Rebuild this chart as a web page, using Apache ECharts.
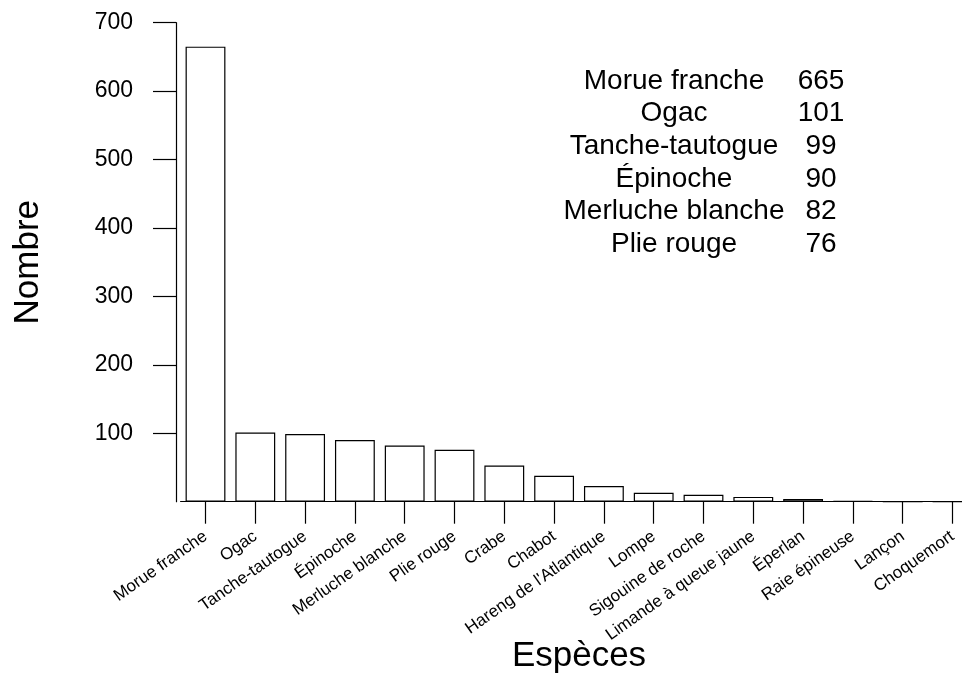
<!DOCTYPE html>
<html>
<head>
<meta charset="utf-8">
<script src="https://cdn.jsdelivr.net/npm/echarts@6/dist/echarts.min.js"></script>
<style>
  html, body { margin: 0; padding: 0; background: #fff; }
  #chart { width: 962px; height: 678px; }
</style>
</head>
<body>
<div id="chart"></div>
<script>
// données
const especes = [
  'Morue franche', 'Ogac', 'Tanche-tautogue', 'Épinoche', 'Merluche blanche',
  'Plie rouge', 'Crabe', 'Chabot', "Hareng de l'Atlantique", 'Lompe',
  'Sigouine de roche', 'Limande à queue jaune', 'Éperlan', 'Raie épineuse',
  'Lançon', 'Choquemort'
]
const nombres = [665, 101, 99, 90, 82, 76, 53, 38, 23, 13, 10, 7, 4, 1, 0, 0]
const yTicks = [100, 200, 300, 400, 500, 600, 700]

const FONT = '"Liberation Sans", Arial, sans-serif'
const chart = echarts.init(document.getElementById('chart'), null, { renderer: 'canvas' })

// petit tableau des 6 premières espèces
const topN = 6
const tableau = []
especes.slice(0, topN).forEach((nom, i) => {
  const y = 81 + i * 32.6
  tableau.push({
    type: 'text', x: 674, y: y,
    style: { text: nom, font: '28px ' + FONT, fill: '#000', textAlign: 'center', textVerticalAlign: 'middle', align: 'center', verticalAlign: 'middle' }
  })
  tableau.push({
    type: 'text', x: 821, y: y,
    style: { text: String(nombres[i]), font: '28px ' + FONT, fill: '#000', textAlign: 'center', textVerticalAlign: 'middle', align: 'center', verticalAlign: 'middle' }
  })
})

const ligne = { color: '#000', width: 1.2 }

chart.setOption({
  animation: false,
  backgroundColor: '#fff',
  textStyle: { fontFamily: FONT, color: '#000' },
  // la grille déborde à droite comme dans l'original
  grid: { left: 180.6, width: 796.8, top: 22.7, bottom: 176.3, containLabel: false, outerBoundsMode: 'none' },
  xAxis: {
    type: 'category',
    data: especes,
    name: 'Espèces',
    nameLocation: 'middle',
    nameGap: 137,
    nameMoveOverlap: false,
    nameTextStyle: { fontSize: 35, color: '#000', fontFamily: FONT },
    axisLine: { show: true, lineStyle: ligne },
    axisTick: { show: true, alignWithLabel: true, length: 22, lineStyle: ligne },
    axisLabel: { rotate: 35, fontSize: 17, margin: 33, color: '#000', fontFamily: FONT, interval: 0 },
    splitLine: { show: false }
  },
  yAxis: {
    type: 'value',
    min: 0,
    max: 700,
    interval: 100,
    offset: 4.6,
    name: 'Nombre',
    nameLocation: 'middle',
    nameRotate: 90,
    nameGap: 130,
    nameMoveOverlap: false,
    nameTextStyle: { fontSize: 35, color: '#000', fontFamily: FONT },
    axisLine: { show: true, lineStyle: ligne },
    axisTick: { show: true, length: 23, lineStyle: ligne, customValues: yTicks },
    axisLabel: { fontSize: 23, margin: 43, color: '#000', fontFamily: FONT, customValues: yTicks },
    splitLine: { show: false }
  },
  series: [{
    type: 'bar',
    data: nombres,
    barCategoryGap: '20%',
    itemStyle: { color: '#fff', borderColor: '#000', borderWidth: 1.2 },
    emphasis: { disabled: true }
  }],
  graphic: tableau
})
</script>
</body>
</html>
